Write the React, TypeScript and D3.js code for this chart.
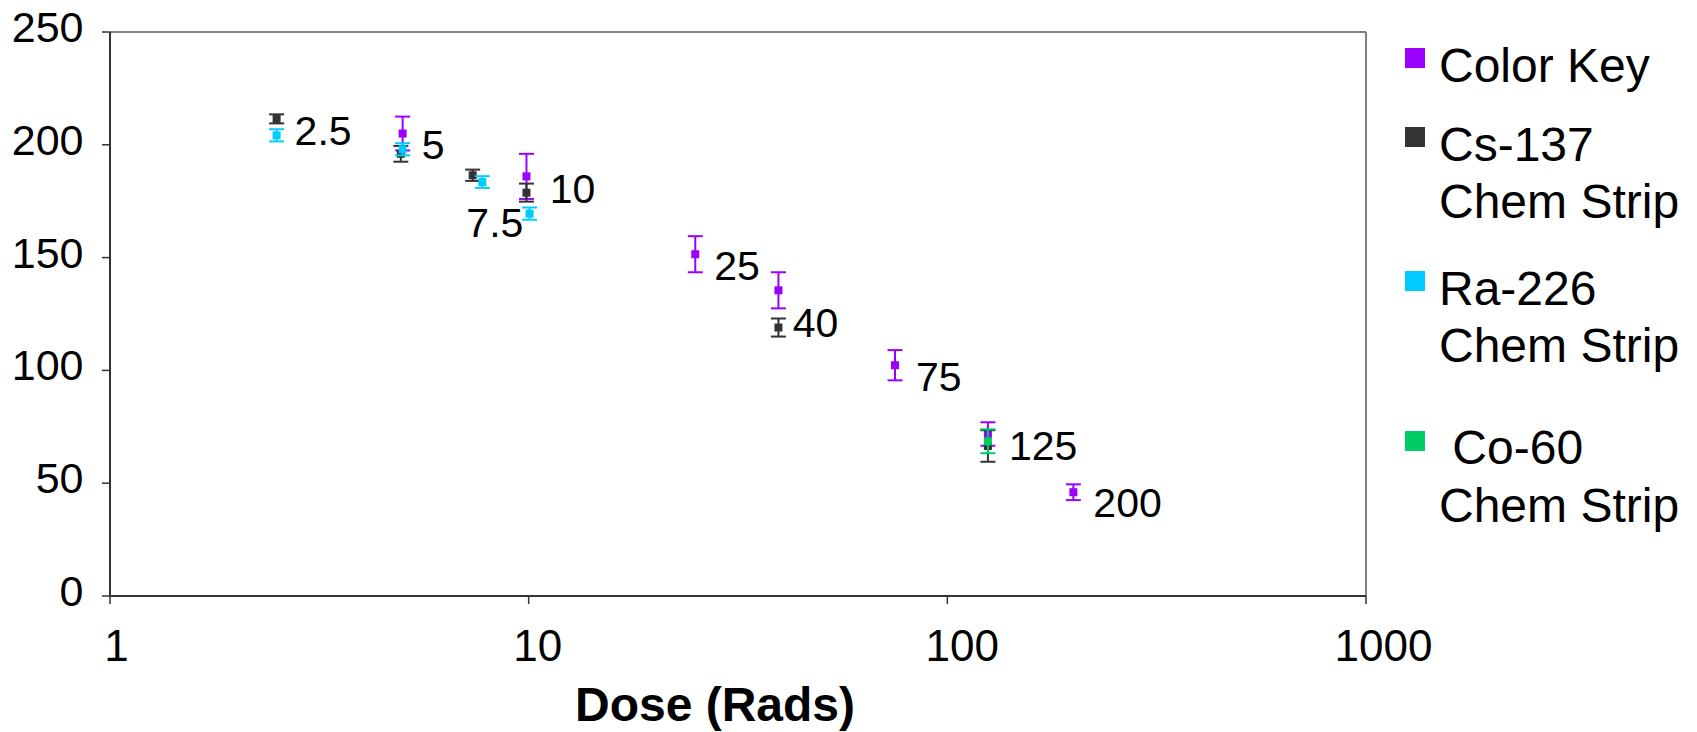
import React from "react";
import * as d3 from "d3";

// ---- Data ----
const xTicks = [1, 10, 100, 1000];
const yTicks = [0, 50, 100, 150, 200, 250];

const colorKeyDose = [5, 9.88, 25, 39.5, 75, 125, 200];
const colorKeyVal = [205, 186, 151.5, 135.5, 102.3, 71.8, 46];
const colorKeyErr = [7.5, 10, 8, 8, 6.7, 5.2, 3.5];

const cs137Dose = [2.5, 4.95, 7.35, 9.88, 39.5, 125];
const cs137Val = [211.5, 196, 186.5, 178.8, 119, 66.5];
const cs137Err = [2, 3.5, 2.5, 4, 4, 7];

const ra226Dose = [2.5, 5, 7.75, 10.05];
const ra226Val = [204.2, 198, 183.5, 169.5];
const ra226Err = [2.7, 2.7, 2.6, 2.7];

const co60Dose = [125];
const co60Val = [68.6];
const co60Err = [5.3];

const labelText = ["2.5", "5", "7.5", "10", "25", "40", "75", "125", "200"];
const labelDose = [2.5, 5, 7.5, 10, 25, 40, 75, 125, 200];
const labelVal = [199.9, 193.7, 159.3, 174.1, 140.1, 114.7, 91, 60.3, 34.9];

const seriesNames = ["Color Key", "Cs-137", "Ra-226", "Co-60"];
const seriesColors = ["#9900FF", "#333333", "#00CCFF", "#00CC66"];

// ---- Layout ----
const W = 1697, H = 732;
const left = 110, right = 1366, top = 32, bottom = 596;
const font = "'Liberation Sans', Arial, Helvetica, sans-serif";
const labelDx = [18, 19, -10, 21, 19, 12, 21, 21, 20];
const xTickLabelDx = [6.5, 9, 15, 17.5];

export default function App() {
  const x = d3.scaleLog().domain([1, 1000]).range([left, right]);
  const y = d3.scaleLinear().domain([0, 250]).range([bottom, top]);

  const series = [
    { d: colorKeyDose, v: colorKeyVal, e: colorKeyErr, c: seriesColors[0] },
    { d: cs137Dose, v: cs137Val, e: cs137Err, c: seriesColors[1] },
    { d: ra226Dose, v: ra226Val, e: ra226Err, c: seriesColors[2] },
    { d: co60Dose, v: co60Val, e: co60Err, c: seriesColors[3] },
  ];

  const legend = [
    { sq: 58, lines: [{ t: seriesNames[0], b: 82 }] },
    { sq: 137, lines: [{ t: seriesNames[1], b: 161 }, { t: "Chem Strip", b: 218 }] },
    { sq: 281, lines: [{ t: seriesNames[2], b: 305 }, { t: "Chem Strip", b: 362 }] },
    { sq: 441, lines: [{ t: "\u00A0" + seriesNames[3], b: 464 }, { t: "Chem Strip", b: 522 }] },
  ];

  const cap = 7.5;
  const ms = 8;

  return (
    <svg width={W} height={H} style={{ position: "absolute", left: 0, top: 0, background: "#fff" }} fontFamily={font}>
      {/* plot frame */}
      <line x1={left} y1={top} x2={right} y2={top} stroke="#808080" strokeWidth={2} />
      <line x1={right} y1={top} x2={right} y2={bottom} stroke="#808080" strokeWidth={2} />
      <line x1={left} y1={top} x2={left} y2={bottom} stroke="#333" strokeWidth={2} />
      <line x1={left} y1={bottom} x2={right} y2={bottom} stroke="#333" strokeWidth={2} />

      {/* y ticks */}
      {yTicks.map((t) => (
        <g key={"y" + t}>
          <line x1={left - 8} x2={left} y1={y(t)} y2={y(t)} stroke="#333" strokeWidth={1.5} />
          <text x={83.5} y={y(t) + 10} textAnchor="end" fontSize={43} fill="#000">{t}</text>
        </g>
      ))}
      {/* x ticks */}
      {xTicks.map((t, i) => (
        <g key={"x" + t}>
          <line x1={x(t)} x2={x(t)} y1={bottom} y2={bottom + 8} stroke="#333" strokeWidth={1.5} />
          <text x={x(t) + xTickLabelDx[i]} y={661} textAnchor="middle" fontSize={44} fill="#000">{t}</text>
        </g>
      ))}
      <text x={715} y={721} textAnchor="middle" fontSize={48} fontWeight="bold" fill="#000">Dose (Rads)</text>

      {/* series */}
      {series.map((s, si) => (
        <g key={"s" + si}>
          {s.d.map((dv, i) => {
            const cx = x(dv);
            const y0 = y(s.v[i] - s.e[i]);
            const y1 = y(s.v[i] + s.e[i]);
            return (
              <g key={i}>
                <line x1={cx} x2={cx} y1={y0} y2={y1} stroke={s.c} strokeWidth={2} />
                <line x1={cx - cap} x2={cx + cap} y1={y0} y2={y0} stroke={s.c} strokeWidth={2} />
                <line x1={cx - cap} x2={cx + cap} y1={y1} y2={y1} stroke={s.c} strokeWidth={2} />
                <rect x={cx - ms / 2} y={y(s.v[i]) - ms / 2} width={ms} height={ms} fill={s.c} />
              </g>
            );
          })}
        </g>
      ))}

      {/* data labels */}
      {labelText.map((t, i) => (
        <text key={"l" + i} x={x(labelDose[i]) + labelDx[i]} y={y(labelVal[i])} fontSize={41} fill="#000">{t}</text>
      ))}

      {/* legend */}
      {legend.map((l, i) => (
        <g key={"lg" + i}>
          <rect x={1405} y={l.sq - 10} width={20} height={20} fill={seriesColors[i]} />
          {l.lines.map((ln, j) => (
            <text key={j} x={1439} y={ln.b} fontSize={48} fill="#000">{ln.t}</text>
          ))}
        </g>
      ))}
    </svg>
  );
}
